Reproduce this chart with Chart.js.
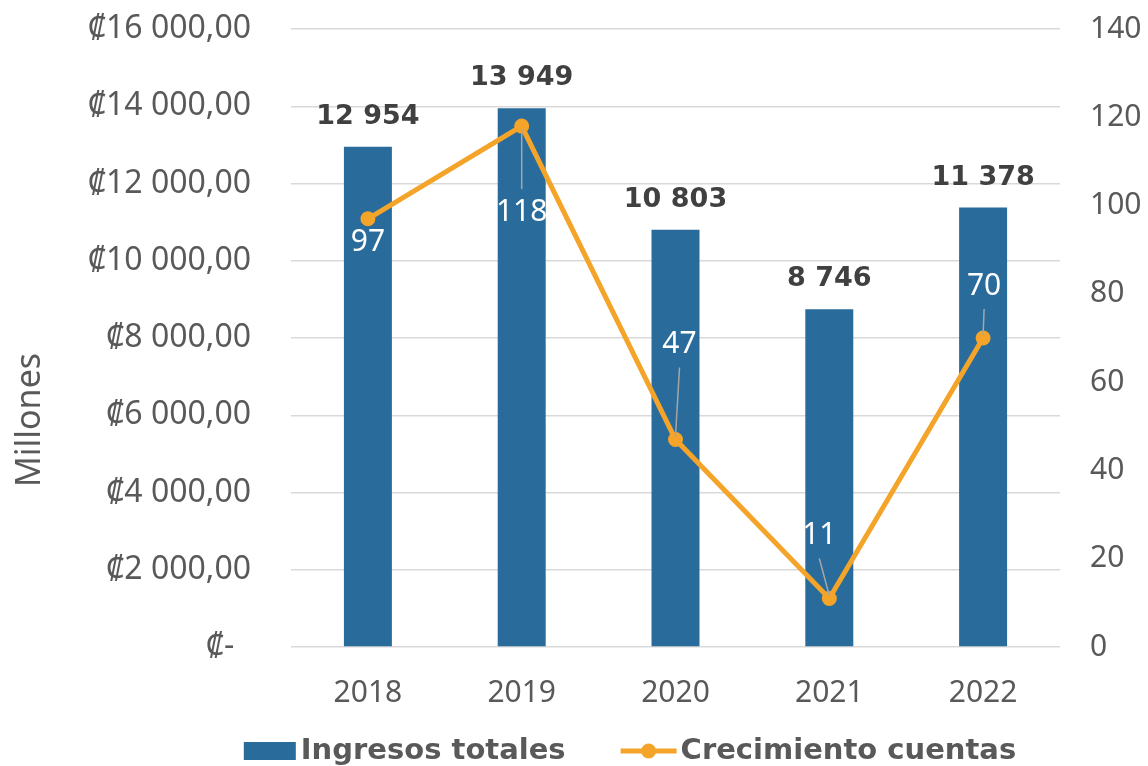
<!DOCTYPE html>
<html>
<head>
<meta charset="utf-8">
<script src="https://cdn.jsdelivr.net/npm/chart.js@4.4.1/dist/chart.umd.min.js"></script>
<style>
  html, body { margin: 0; padding: 0; background: #fff; }
  #wrap { width: 1148px; height: 766px; }
</style>
</head>
<body>
<div id="wrap"><canvas id="myChart" width="1148" height="766"></canvas></div>
<script>
// datos del grafico
const years = ['2018', '2019', '2020', '2021', '2022'];
const ingresos = [12954, 13949, 10803, 8746, 11378];
const crecimiento = [97, 118, 47, 11, 70];
const leftTicks = [0, 2000, 4000, 6000, 8000, 10000, 12000, 14000, 16000];
const rightTicks = [0, 20, 40, 60, 80, 100, 120, 140];

const BLUE = '#296B9B';
const ORANGE = '#F5A42A';
const GREY = '#595959';
const FONT = "'Noto Sans', sans-serif";
const BOLD = "'DejaVu Sans', sans-serif";

// separador de miles con espacio
function miles(v) {
    return String(v).replace(/\B(?=(\d{3})+(?!\d))/g, ' ');
}

// desplazamiento de las etiquetas de la linea respecto al punto
const lineLabelShift = [[0, 24], [0, 86], [4, -95], [-10, -63], [1, -52]];

const etiquetas = {
    id: 'etiquetas',
    afterDatasetsDraw(chart) {
        const ctx = chart.ctx;
        ctx.save();
        // valores de las barras
        const barMeta = chart.getDatasetMeta(0);
        ctx.font = "bold 27px " + BOLD;
        ctx.fillStyle = '#404040';
        ctx.textAlign = 'center';
        ctx.textBaseline = 'middle';
        barMeta.data.forEach((bar, i) => {
            ctx.fillText(miles(ingresos[i]), bar.x, bar.y - 30);
        });
        // valores de la linea
        const lineMeta = chart.getDatasetMeta(1);
        ctx.font = "30px " + FONT;
        lineMeta.data.forEach((pt, i) => {
            const [dx, dy] = lineLabelShift[i];
            const lx = pt.x + dx, ly = pt.y + dy;
            if (Math.abs(dy) > 40) {
                const s = dy > 0 ? -1 : 1;
                ctx.strokeStyle = '#A6A6A6';
                ctx.lineWidth = 1.5;
                ctx.beginPath();
                ctx.moveTo(lx, ly + s * 23);
                ctx.lineTo(pt.x, pt.y - s * 3);
                ctx.stroke();
            }
            ctx.fillStyle = '#FFFFFF';
            ctx.fillText(String(crecimiento[i]), lx, ly);
        });
        ctx.restore();
    },
    afterDraw(chart) {
        const ctx = chart.ctx;
        // titulo del eje
        ctx.save();
        ctx.translate(30, 420);
        ctx.rotate(-Math.PI / 2);
        ctx.font = "34px " + FONT;
        ctx.fillStyle = GREY;
        ctx.textAlign = 'center';
        ctx.textBaseline = 'middle';
        ctx.fillText('Millones', 0, 0);
        ctx.restore();

        // leyenda
        ctx.save();
        ctx.font = "bold 29px " + BOLD;
        ctx.textBaseline = 'middle';
        ctx.textAlign = 'left';
        const ds = chart.data.datasets;
        const w1 = ctx.measureText(ds[0].label).width;
        const w2 = ctx.measureText(ds[1].label).width;
        const total = 52 + 5 + w1 + 55 + 56 + 4 + w2;
        let x = 630 - total / 2;
        const y = 751;
        ctx.fillStyle = ds[0].backgroundColor;
        ctx.fillRect(x, y - 9, 52, 18);
        x += 57;
        ctx.fillStyle = GREY;
        ctx.fillText(ds[0].label, x, y);
        x += w1 + 55;
        ctx.strokeStyle = ds[1].borderColor;
        ctx.lineWidth = 5;
        ctx.beginPath(); ctx.moveTo(x, y); ctx.lineTo(x + 56, y); ctx.stroke();
        ctx.fillStyle = ds[1].borderColor;
        ctx.beginPath(); ctx.arc(x + 28, y, 7.5, 0, Math.PI * 2); ctx.fill();
        x += 60;
        ctx.fillStyle = GREY;
        ctx.fillText(ds[1].label, x, y);
        ctx.restore();
    }
};

const ctx = document.getElementById('myChart').getContext('2d');
const myChart = new Chart(ctx, {
    data: {
        labels: years,
        datasets: [{
            type: 'bar',
            label: 'Ingresos totales',
            data: ingresos,
            backgroundColor: BLUE,
            yAxisID: 'y',
            barPercentage: 0.312,
            categoryPercentage: 1,
            order: 2
        }, {
            type: 'line',
            label: 'Crecimiento cuentas',
            data: crecimiento,
            borderColor: ORANGE,
            backgroundColor: ORANGE,
            borderWidth: 5,
            pointRadius: 7.5,
            pointBackgroundColor: ORANGE,
            pointBorderWidth: 0,
            tension: 0,
            yAxisID: 'y1',
            order: 1
        }]
    },
    options: {
        responsive: false,
        animation: false,
        layout: { padding: { top: 29, left: 0, right: 0, bottom: 32 } },
        scales: {
            x: {
                grid: { display: false },
                border: { display: false },
                ticks: { color: GREY, font: { family: FONT, size: 30 }, padding: 20 },
                afterFit(s) { s.height = 87; s.paddingLeft = 0; s.paddingRight = 0; }
            },
            y: {
                position: 'left',
                min: 0,
                max: 16000,
                afterBuildTicks(s) { s.ticks = leftTicks.map(v => ({ value: v })); },
                grid: { color: '#D9D9D9', lineWidth: 1.5, drawTicks: false },
                border: { display: false },
                ticks: {
                    color: GREY,
                    font: { family: FONT, size: 32 },
                    padding: 40,
                    callback: v => v === 0 ? '₡-  ' : '₡' + miles(v) + ',00'
                },
                afterFit(s) { s.width = 291; s.paddingTop = 0; s.paddingBottom = 0; }
            },
            y1: {
                position: 'right',
                min: 0,
                max: 140,
                afterBuildTicks(s) { s.ticks = rightTicks.map(v => ({ value: v })); },
                grid: { display: false, drawTicks: false },
                border: { display: false },
                ticks: { color: GREY, font: { family: FONT, size: 30 }, padding: 30 },
                afterFit(s) { s.width = 88; s.paddingTop = 0; s.paddingBottom = 0; }
            }
        },
        plugins: {
            tooltip: { enabled: false },
            legend: { display: false }
        }
    },
    plugins: [etiquetas]
});
</script>
</body>
</html>
